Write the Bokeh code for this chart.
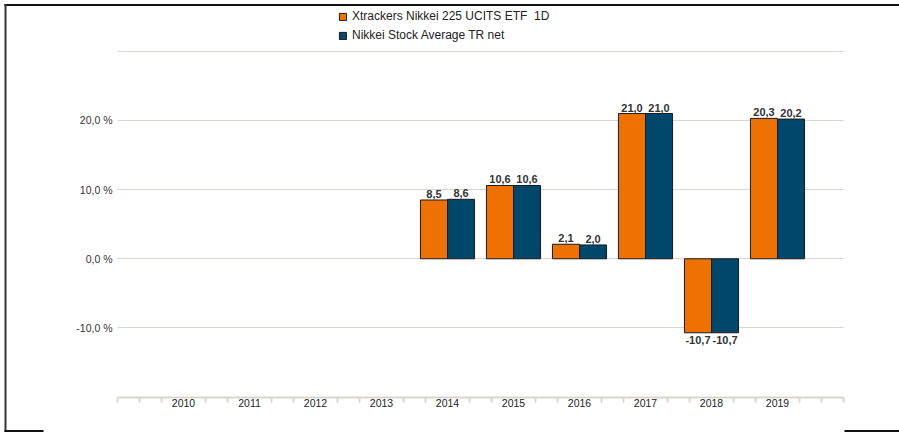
from bokeh.plotting import figure
from bokeh.models import FixedTicker, Legend, LegendItem, BoxAnnotation, ColumnDataSource, Range1d, Grid
from bokeh.core.properties import value
from bokeh.embed import file_html
from bokeh.resources import INLINE

# ---- data ----
categories = ["2010", "2011", "2012", "2013", "2014", "2015", "2016", "2017", "2018", "2019"]
years = [2014, 2015, 2016, 2017, 2018, 2019]
etf_values = [8.5, 10.6, 2.1, 21.0, -10.7, 20.3]
index_values = [8.6, 10.6, 2.0, 21.0, -10.7, 20.2]
series_names = ["Xtrackers Nikkei 225 UCITS ETF  1D", "Nikkei Stock Average TR net"]
y_ticks = [-20, -10, 0, 10, 20, 30]
y_tick_labels = ["", "-10,0 %", "0,0 %", "10,0 %", "20,0 %", ""]

# ---- style / layout ----
ORANGE = "#ee7203"
BLUE = "#00476b"
GRID = "#dad6cf"
FONT = "Liberation Sans"
BAR_W = 0.41
OFF = 0.205
W, H = 899, 433
FL, FT = 3, 2                      # frame left / top on canvas
X_LO, X_HI = 2009, 2020            # axis extent (one empty slot each side)
PX_LO, PX_HI = 117, 843            # canvas x of X_LO / X_HI
Y_LO, Y_HI = -20, 30
PY_LO, PY_HI = 396.6, 50.8         # canvas y of Y_LO / Y_HI

sx = (PX_HI - PX_LO) / (X_HI - X_LO)
sy = (PY_LO - PY_HI) / (Y_HI - Y_LO)
x_start = X_LO - (PX_LO - FL) / sx
x_end = X_HI + (W - PX_HI) / sx
y_start = Y_LO - (H - PY_LO) / sy
y_end = Y_HI + (PY_HI - FT) / sy

p = figure(width=W, height=H, output_backend="svg", toolbar_location=None,
           x_range=Range1d(x_start, x_end), y_range=Range1d(y_start, y_end),
           min_border_left=FL, min_border_right=0, min_border_top=FT, min_border_bottom=0)
p.outline_line_color = None
p.background_fill_color = "white"
p.border_fill_color = "white"

def fmt(v):
    return f"{v:.1f}".replace(".", ",")

renderers = []
for vals, col, off in [(etf_values, ORANGE, -OFF), (index_values, BLUE, OFF)]:
    src = ColumnDataSource(dict(x=[y + off for y in years], top=vals))
    r = p.vbar(x="x", top="top", bottom=0, width=BAR_W, source=src,
               fill_color=col, line_color="#1a1a1a", line_width=1)
    renderers.append(r)
    pos = ColumnDataSource(dict(x=[y + off for y, v in zip(years, vals) if v >= 0],
                                y=[v for v in vals if v >= 0],
                                label=[fmt(v) for v in vals if v >= 0]))
    neg = ColumnDataSource(dict(x=[y + off for y, v in zip(years, vals) if v < 0],
                                y=[v for v in vals if v < 0],
                                label=[fmt(v) for v in vals if v < 0]))
    p.text(x="x", y="y", text="label", source=pos, text_align="center", text_baseline="alphabetic",
           y_offset=-6, text_font=value(FONT), text_font_size="11px", text_font_style="bold",
           text_color="#333333")
    p.text(x="x", y="y", text="label", source=neg, text_align="center", text_baseline="top",
           y_offset=3, text_font=value(FONT), text_font_size="11px", text_font_style="bold",
           text_color="#333333")

# x axis (drawn at y = -20 inside the frame)
major = [int(c) for c in categories]
minor = [X_LO + k / 3 for k in range(0, 3 * (X_HI - X_LO) + 1)
         if not (k % 3 == 0 and (X_LO + k // 3) in major)]
p.xaxis.fixed_location = Y_LO
p.xaxis.bounds = (X_LO, X_HI)
p.xaxis.ticker = FixedTicker(ticks=major, minor_ticks=minor)
p.xaxis.major_label_overrides = {int(c): c for c in categories}
p.xaxis.axis_line_color = GRID
p.xaxis.axis_line_width = 2
p.xaxis.major_tick_line_color = None
p.xaxis.minor_tick_line_color = GRID
p.xaxis.minor_tick_line_width = 2
p.xaxis.minor_tick_out = 5
p.xaxis.minor_tick_in = 0
p.xaxis.major_label_standoff = -4
p.xaxis.major_label_text_font = FONT
p.xaxis.major_label_text_font_size = "10.5px"
p.xaxis.major_label_text_color = "#222222"
p.xgrid.visible = False

# y axis (drawn at x = 2009 inside the frame)
p.yaxis.fixed_location = X_LO
p.yaxis.bounds = (Y_LO, Y_HI)
p.yaxis.ticker = FixedTicker(ticks=y_ticks)
p.yaxis.major_label_overrides = {t: l for t, l in zip(y_ticks, y_tick_labels)}
p.yaxis.axis_line_color = None
p.yaxis.major_tick_line_color = None
p.yaxis.minor_tick_line_color = None
p.yaxis.major_tick_out = 0
p.yaxis.minor_tick_out = 0
p.yaxis.major_label_standoff = 5
p.yaxis.major_label_text_font = FONT
p.yaxis.major_label_text_font_size = "10.5px"
p.yaxis.major_label_text_color = "#333333"

p.ygrid.grid_line_color = GRID
p.ygrid.grid_line_width = 1
if "cross_bounds" in Grid.properties():
    p.ygrid.cross_bounds = (X_LO, X_HI)
else:
    p.ygrid.visible = False
    p.segment(x0=[X_LO] * len(y_ticks), x1=[X_HI] * len(y_ticks), y0=y_ticks, y1=y_ticks,
              line_color=GRID, line_width=1, level="underlay")

legend = Legend(items=[LegendItem(label=series_names[i], renderers=[renderers[i]]) for i in range(2)],
                location=(338 - FL, H - 42), orientation="vertical", glyph_width=9, glyph_height=9,
                label_height=14, label_standoff=5, spacing=5, padding=0, margin=0,
                border_line_color=None, background_fill_alpha=0,
                label_text_font=FONT, label_text_font_size="12px", label_text_color="#222222")
p.add_layout(legend)

# page frame lines
for l, r, t, b, c in [(4, W, 3.5, 5.5, "#111111"), (4, 6, 3.5, 431.5, "#333333"),
                      (4, 43, 429.5, 431.5, "#111111"), (844, W, 429.5, 431.5, "#111111")]:
    p.add_layout(BoxAnnotation(left=l, right=r, top=t, bottom=b,
                               left_units="canvas", right_units="canvas",
                               top_units="canvas", bottom_units="canvas",
                               fill_color=c, fill_alpha=1, line_color=None))

open("out.html", "w").write(file_html(p, INLINE))
